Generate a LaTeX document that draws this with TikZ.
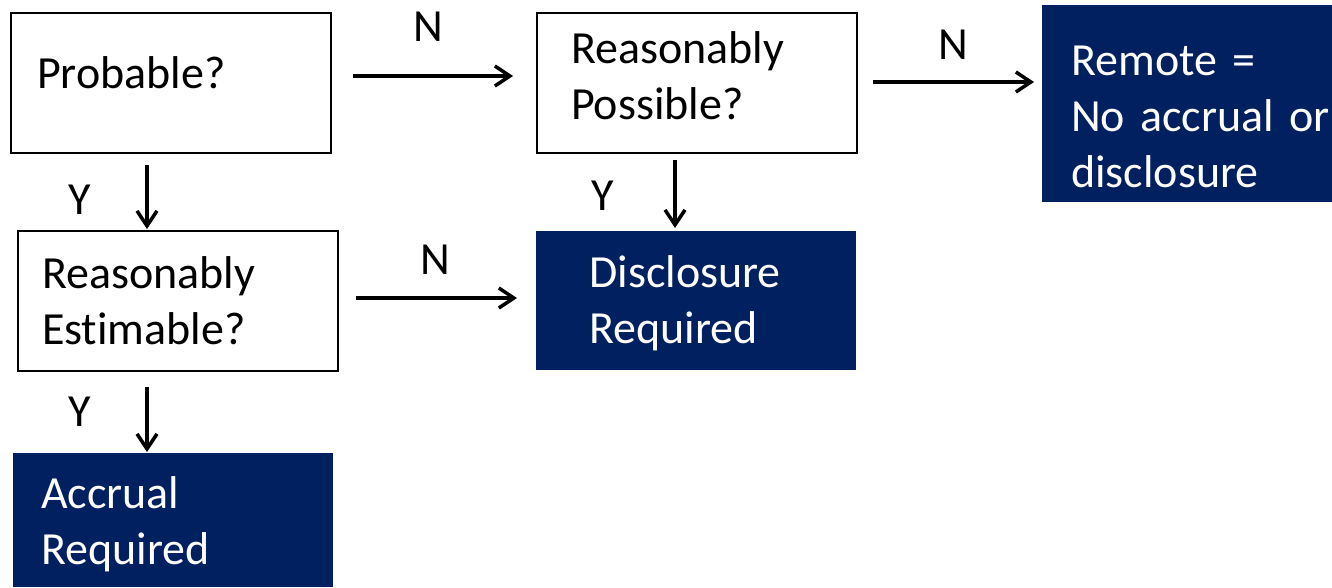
\documentclass[tikz,border=0pt]{standalone}
\usepackage{fontspec}
\setmainfont{Carlito}[Ligatures={NoCommon}]
\usetikzlibrary{arrows.meta}
\definecolor{navy}{HTML}{002060}
\tikzset{
  txt/.style={font=\fontsize{46}{56}\selectfont},
  qbox/.style={txt, draw=black, line width=2pt, fill=white, anchor=north west, align=left, inner ysep=0pt},
  abox/.style={txt, fill=navy, text=white, anchor=north west, align=left, inner ysep=0pt},
  arr/.style={line width=3.5pt, -{Straight Barb[length=15pt,width=20pt]}},
  lbl/.style={txt, inner sep=0pt}
}
\begin{document}
\begin{tikzpicture}[x=1pt,y=-1pt]
\useasboundingbox (0,0) rectangle (1332,587);
% boxes
\node[qbox, inner xsep=26pt, text width=268pt, minimum height=140pt] (prob) at (10,12) {Probable?\rule[-21pt]{0pt}{21pt}};
\node[qbox, inner xsep=34pt, text width=252pt, minimum height=140pt] (poss) at (536,12) {Reasonably\\Possible?\rule[-14pt]{0pt}{14pt}};
\node[abox, inner xsep=29pt, text width=320pt, minimum height=197pt] (rem) at (1042,5) {\rule{0pt}{56pt}Remote =\\No accrual or\\disclosure};
\node[qbox, inner xsep=24pt, text width=272pt, minimum height=140pt] (est) at (17,230) {Reasonably\\Estimable?};
\node[abox, inner xsep=53pt, text width=214pt, minimum height=139pt] (disc) at (536,231) {\rule{0pt}{36pt}Disclosure\\Required};
\node[abox, inner xsep=28pt, text width=264pt, minimum height=134pt] (accr) at (13,453) {\rule{0pt}{40pt}Accrual\\Required};
% connector end points
\coordinate (a1s) at (353,76);  \coordinate (a1e) at (513,76);
\coordinate (a2s) at (873,82);  \coordinate (a2e) at (1034,82);
\coordinate (a3s) at (147,165); \coordinate (a3e) at (147,229);
\coordinate (a4s) at (675,160); \coordinate (a4e) at (675,228);
\coordinate (a5s) at (356,298); \coordinate (a5e) at (517,298);
\coordinate (a6s) at (147,387); \coordinate (a6e) at (147,452);
\draw[arr] (a1s) -- (a1e);
\draw[arr] (a2s) -- (a2e);
\draw[arr] (a3s) -- (a3e);
\draw[arr] (a4s) -- (a4e);
\draw[arr] (a5s) -- (a5e);
\draw[arr] (a6s) -- (a6e);
% labels
\node[lbl] (n1) at (428,27) {N};
\node[lbl] (n2) at (953,45) {N};
\node[lbl] (n3) at (435,260) {N};
\node[lbl] (y1) at (80,200) {Y};
\node[lbl] (y2) at (603,196) {Y};
\node[lbl] (y3) at (80,412) {Y};
\end{tikzpicture}
\end{document}
